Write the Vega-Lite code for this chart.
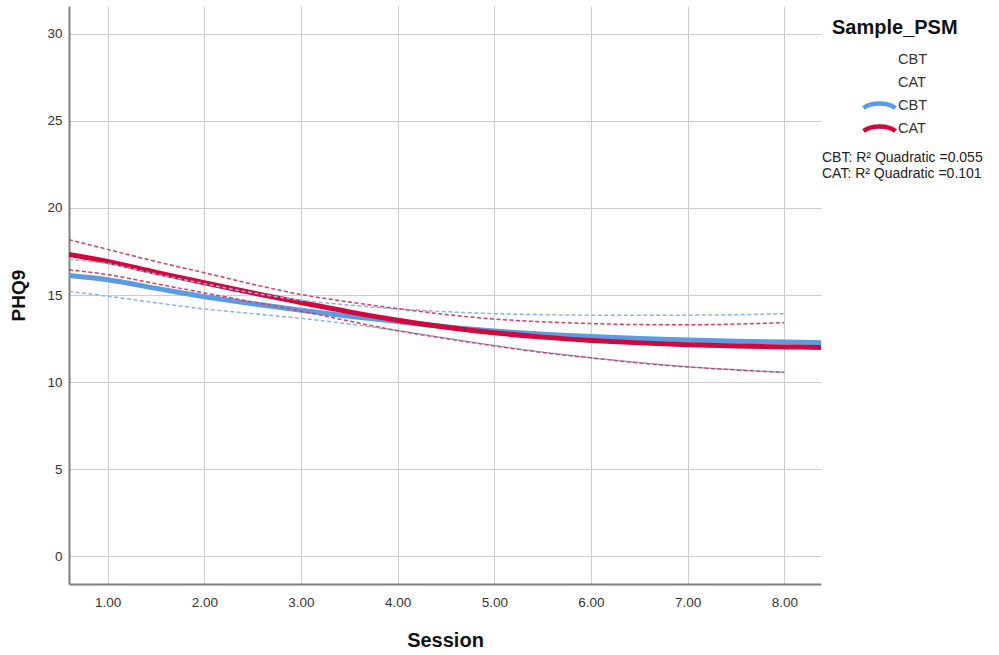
{
  "$schema": "https://vega.github.io/schema/vega-lite/v6.json",
  "width": 752,
  "height": 578,
  "autosize": {"type": "none"},
  "padding": {"left": 69, "top": 6, "right": 178, "bottom": 71},
  "background": "white",
  "config": {
    "view": {"stroke": null},
    "font": "Liberation Sans",
    "axis": {
      "grid": true,
      "gridColor": "#cdcdcd",
      "gridWidth": 1,
      "domainColor": "#808080",
      "domainWidth": 2,
      "ticks": false,
      "tickSize": 0,
      "labelFont": "Liberation Sans",
      "labelFontSize": 13.5,
      "labelColor": "#333333",
      "titleFont": "Liberation Sans",
      "titleFontSize": 19,
      "titleFontWeight": "bold",
      "titleColor": "#111111"
    }
  },
  "datasets": {
    "fit": [
      {"series": "CBT", "session": 0.6, "phq9": 16.12},
      {"series": "CBT", "session": 1.0, "phq9": 15.88},
      {"series": "CBT", "session": 1.5, "phq9": 15.38},
      {"series": "CBT", "session": 2.0, "phq9": 14.9},
      {"series": "CBT", "session": 2.5, "phq9": 14.5},
      {"series": "CBT", "session": 3.0, "phq9": 14.12},
      {"series": "CBT", "session": 3.5, "phq9": 13.78},
      {"series": "CBT", "session": 4.0, "phq9": 13.47},
      {"series": "CBT", "session": 4.5, "phq9": 13.18},
      {"series": "CBT", "session": 5.0, "phq9": 12.93},
      {"series": "CBT", "session": 5.5, "phq9": 12.75},
      {"series": "CBT", "session": 6.0, "phq9": 12.61},
      {"series": "CBT", "session": 6.5, "phq9": 12.5},
      {"series": "CBT", "session": 7.0, "phq9": 12.42},
      {"series": "CBT", "session": 7.5, "phq9": 12.35},
      {"series": "CBT", "session": 8.0, "phq9": 12.3},
      {"series": "CBT", "session": 8.38, "phq9": 12.26},
      {"series": "CAT", "session": 0.6, "phq9": 17.33},
      {"series": "CAT", "session": 1.0, "phq9": 16.93},
      {"series": "CAT", "session": 1.5, "phq9": 16.3},
      {"series": "CAT", "session": 2.0, "phq9": 15.7},
      {"series": "CAT", "session": 2.5, "phq9": 15.12},
      {"series": "CAT", "session": 3.0, "phq9": 14.57},
      {"series": "CAT", "session": 3.5, "phq9": 14.03},
      {"series": "CAT", "session": 4.0, "phq9": 13.55},
      {"series": "CAT", "session": 4.5, "phq9": 13.15},
      {"series": "CAT", "session": 5.0, "phq9": 12.83},
      {"series": "CAT", "session": 5.5, "phq9": 12.58},
      {"series": "CAT", "session": 6.0, "phq9": 12.39},
      {"series": "CAT", "session": 6.5, "phq9": 12.25},
      {"series": "CAT", "session": 7.0, "phq9": 12.14},
      {"series": "CAT", "session": 7.5, "phq9": 12.07},
      {"series": "CAT", "session": 8.0, "phq9": 12.02},
      {"series": "CAT", "session": 8.38, "phq9": 11.99}
    ],
    "ci": [
      {"group": "CBT", "bound": "upper", "session": 0.6, "phq9": 17.05},
      {"group": "CBT", "bound": "upper", "session": 1.0, "phq9": 16.8},
      {"group": "CBT", "bound": "upper", "session": 1.5, "phq9": 16.2},
      {"group": "CBT", "bound": "upper", "session": 2.0, "phq9": 15.65},
      {"group": "CBT", "bound": "upper", "session": 2.5, "phq9": 15.12},
      {"group": "CBT", "bound": "upper", "session": 3.0, "phq9": 14.7},
      {"group": "CBT", "bound": "upper", "session": 3.5, "phq9": 14.42},
      {"group": "CBT", "bound": "upper", "session": 4.0, "phq9": 14.2},
      {"group": "CBT", "bound": "upper", "session": 4.5, "phq9": 14.04},
      {"group": "CBT", "bound": "upper", "session": 5.0, "phq9": 13.93},
      {"group": "CBT", "bound": "upper", "session": 5.5, "phq9": 13.87},
      {"group": "CBT", "bound": "upper", "session": 6.0, "phq9": 13.84},
      {"group": "CBT", "bound": "upper", "session": 6.5, "phq9": 13.83},
      {"group": "CBT", "bound": "upper", "session": 7.0, "phq9": 13.84},
      {"group": "CBT", "bound": "upper", "session": 7.5, "phq9": 13.87},
      {"group": "CBT", "bound": "upper", "session": 8.0, "phq9": 13.93},
      {"group": "CBT", "bound": "lower", "session": 0.6, "phq9": 15.21},
      {"group": "CBT", "bound": "lower", "session": 1.0, "phq9": 14.93},
      {"group": "CBT", "bound": "lower", "session": 1.5, "phq9": 14.55},
      {"group": "CBT", "bound": "lower", "session": 2.0, "phq9": 14.2},
      {"group": "CBT", "bound": "lower", "session": 2.5, "phq9": 13.93},
      {"group": "CBT", "bound": "lower", "session": 3.0, "phq9": 13.66},
      {"group": "CBT", "bound": "lower", "session": 3.5, "phq9": 13.33},
      {"group": "CBT", "bound": "lower", "session": 4.0, "phq9": 12.96},
      {"group": "CBT", "bound": "lower", "session": 4.5, "phq9": 12.52},
      {"group": "CBT", "bound": "lower", "session": 5.0, "phq9": 12.1},
      {"group": "CBT", "bound": "lower", "session": 5.5, "phq9": 11.72},
      {"group": "CBT", "bound": "lower", "session": 6.0, "phq9": 11.4},
      {"group": "CBT", "bound": "lower", "session": 6.5, "phq9": 11.12},
      {"group": "CBT", "bound": "lower", "session": 7.0, "phq9": 10.88},
      {"group": "CBT", "bound": "lower", "session": 7.5, "phq9": 10.7},
      {"group": "CBT", "bound": "lower", "session": 8.0, "phq9": 10.55},
      {"group": "CAT", "bound": "upper", "session": 0.6, "phq9": 18.18},
      {"group": "CAT", "bound": "upper", "session": 1.0, "phq9": 17.62},
      {"group": "CAT", "bound": "upper", "session": 1.5, "phq9": 16.92},
      {"group": "CAT", "bound": "upper", "session": 2.0, "phq9": 16.28},
      {"group": "CAT", "bound": "upper", "session": 2.5, "phq9": 15.62},
      {"group": "CAT", "bound": "upper", "session": 3.0, "phq9": 15.03},
      {"group": "CAT", "bound": "upper", "session": 3.5, "phq9": 14.6},
      {"group": "CAT", "bound": "upper", "session": 4.0, "phq9": 14.22},
      {"group": "CAT", "bound": "upper", "session": 4.5, "phq9": 13.88},
      {"group": "CAT", "bound": "upper", "session": 5.0, "phq9": 13.62},
      {"group": "CAT", "bound": "upper", "session": 5.5, "phq9": 13.46},
      {"group": "CAT", "bound": "upper", "session": 6.0, "phq9": 13.36},
      {"group": "CAT", "bound": "upper", "session": 6.5, "phq9": 13.3},
      {"group": "CAT", "bound": "upper", "session": 7.0, "phq9": 13.29},
      {"group": "CAT", "bound": "upper", "session": 7.5, "phq9": 13.33},
      {"group": "CAT", "bound": "upper", "session": 8.0, "phq9": 13.41},
      {"group": "CAT", "bound": "lower", "session": 0.6, "phq9": 16.45},
      {"group": "CAT", "bound": "lower", "session": 1.0, "phq9": 16.17},
      {"group": "CAT", "bound": "lower", "session": 1.5, "phq9": 15.65},
      {"group": "CAT", "bound": "lower", "session": 2.0, "phq9": 15.12},
      {"group": "CAT", "bound": "lower", "session": 2.5, "phq9": 14.6},
      {"group": "CAT", "bound": "lower", "session": 3.0, "phq9": 14.08},
      {"group": "CAT", "bound": "lower", "session": 3.5, "phq9": 13.5},
      {"group": "CAT", "bound": "lower", "session": 4.0, "phq9": 12.95},
      {"group": "CAT", "bound": "lower", "session": 4.5, "phq9": 12.5},
      {"group": "CAT", "bound": "lower", "session": 5.0, "phq9": 12.08},
      {"group": "CAT", "bound": "lower", "session": 5.5, "phq9": 11.7},
      {"group": "CAT", "bound": "lower", "session": 6.0, "phq9": 11.39},
      {"group": "CAT", "bound": "lower", "session": 6.5, "phq9": 11.1},
      {"group": "CAT", "bound": "lower", "session": 7.0, "phq9": 10.87},
      {"group": "CAT", "bound": "lower", "session": 7.5, "phq9": 10.7},
      {"group": "CAT", "bound": "lower", "session": 8.0, "phq9": 10.56}
    ],
    "r2": [
      {"fit": "CBT: R² Quadratic =0.055"},
      {"fit": "CAT: R² Quadratic =0.101"}
    ]
  },
  "layer": [
    {
      "data": {"name": "fit"},
      "mark": {"type": "line", "strokeWidth": 5, "interpolate": "monotone", "clip": true},
      "encoding": {
        "x": {
          "field": "session",
          "type": "quantitative",
          "scale": {"domain": [0.6, 8.38], "nice": false, "zero": false},
          "axis": {
            "values": [1, 2, 3, 4, 5, 6, 7, 8],
            "format": ".2f",
            "labelPadding": 11,
            "title": "Session",
            "titleFontSize": 20,
            "titlePadding": 22
          }
        },
        "y": {
          "field": "phq9",
          "type": "quantitative",
          "scale": {"domain": [-1.6, 31.6], "nice": false, "zero": false},
          "axis": {
            "values": [0, 5, 10, 15, 20, 25, 30],
            "labelPadding": 7,
            "title": "PHQ9",
            "titlePadding": 18
          }
        },
        "color": {
          "field": "series",
          "type": "nominal",
          "scale": {
            "domain": ["CBT ", "CAT ", "CBT", "CAT"],
            "range": ["transparent", "transparent", "#5a9be1", "#d2073b"]
          },
          "legend": {
            "title": "Sample_PSM",
            "orient": "none",
            "legendX": 763,
            "legendY": 12,
            "titleFontSize": 20,
            "titleFontWeight": "bold",
            "titleColor": "#111111",
            "titleFont": "Liberation Sans",
            "titlePadding": 14,
            "labelFont": "Liberation Sans",
            "labelFontSize": 14.5,
            "labelColor": "#333333",
            "symbolType": "M-3.2,0.5 C-1.6,-0.7 1.6,-0.7 3.2,0.5",
            "symbolSize": 100,
            "symbolStrokeWidth": 4.5,
            "symbolFillColor": "transparent",
            "symbolOffset": 40,
            "labelOffset": 11,
            "rowPadding": 0
          }
        }
      }
    },
    {
      "data": {"name": "ci"},
      "mark": {"type": "line", "strokeWidth": 1.5, "strokeDash": [4, 2.5], "interpolate": "monotone", "clip": true},
      "encoding": {
        "x": {"field": "session", "type": "quantitative"},
        "y": {"field": "phq9", "type": "quantitative"},
        "detail": {"field": "bound", "type": "nominal"},
        "stroke": {
          "field": "group",
          "type": "nominal",
          "scale": {"domain": ["CBT", "CAT"], "range": ["#86b4ea", "#d83a60"]},
          "legend": null
        }
      }
    },
    {
      "data": {"name": "r2"},
      "mark": {"type": "point", "opacity": 0},
      "encoding": {
        "shape": {
          "field": "fit",
          "type": "nominal",
          "sort": null,
          "legend": {
            "title": null,
            "orient": "none",
            "legendX": 739,
            "legendY": 145,
            "symbolSize": 0,
            "symbolOffset": 0,
            "labelOffset": 0,
            "labelFont": "Liberation Sans",
            "labelFontSize": 14,
            "labelColor": "#222222",
            "rowPadding": 2,
            "labelLimit": 300
          }
        }
      }
    }
  ]
}
